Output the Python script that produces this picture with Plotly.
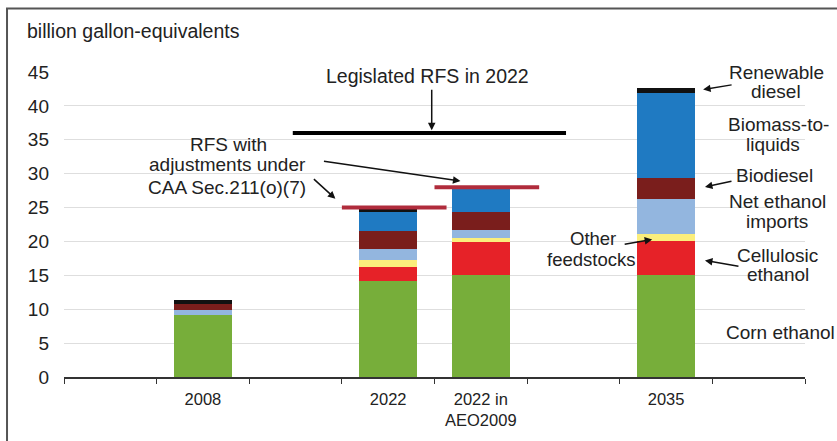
import plotly.graph_objects as go

# ---- data ----
categories = ["2008", "2022", "2022 in<br>AEO2009", "2035"]
positions = [1, 3, 4, 6]              # slot index on the category axis (blank slots between)
corn_ethanol = [9.15, 14.1, 15.0, 15.0]
cellulosic_ethanol = [0.0, 2.1, 4.9, 5.1]
other_feedstocks = [0.0, 1.1, 0.6, 1.0]
net_ethanol_imports = [0.75, 1.55, 1.2, 5.2]
biodiesel = [0.8, 2.65, 2.7, 3.0]
biomass_to_liquids = [0.0, 2.9, 3.3, 12.6]
renewable_diesel = [0.6, 0.45, 0.0, 0.7]

rfs_adjusted_cats = [3, 4]            # 2022 and 2022 in AEO2009
rfs_adjusted_vals = [25.0, 28.0]
legislated_rfs = 36.0

series = [
    ("Corn ethanol", corn_ethanol, "#77ae3a"),
    ("Cellulosic ethanol", cellulosic_ethanol, "#e62228"),
    ("Other feedstocks", other_feedstocks, "#fbee7c"),
    ("Net ethanol imports", net_ethanol_imports, "#93b6df"),
    ("Biodiesel", biodiesel, "#7a1e1c"),
    ("Biomass-to-liquids", biomass_to_liquids, "#1f7ac2"),
    ("Renewable diesel", renewable_diesel, "#111111"),
]

FONT = "Arial, Liberation Sans, sans-serif"
TXT = "#222222"

fig = go.Figure()
for name, vals, col in series:
    fig.add_trace(go.Bar(x=positions, y=vals, name=name, width=0.63,
                         marker=dict(color=col, line=dict(width=0)),
                         showlegend=False, hoverinfo="name+y"))

# RFS with adjustments (red bars above 2022 columns)
for c, v in zip(rfs_adjusted_cats, rfs_adjusted_vals):
    fig.add_trace(go.Scatter(x=[c - 0.5, c + 0.63], y=[v, v], mode="lines",
                             line=dict(color="#b02c3c", width=4),
                             showlegend=False, hoverinfo="skip"))

# Legislated RFS line
fig.add_trace(go.Scatter(x=[rfs_adjusted_cats[0] - 1.03, rfs_adjusted_cats[1] + 0.92],
                         y=[legislated_rfs, legislated_rfs], mode="lines",
                         line=dict(color="#000000", width=4),
                         showlegend=False, hoverinfo="skip"))

ann = []
def text(x, y, t, size=19):
    ann.append(dict(x=x, y=y, xref="x", yref="y", text=t, showarrow=False,
                    xanchor="center", yanchor="middle",
                    font=dict(family=FONT, size=size, color=TXT)))

def arrow(x, y, ax, ay):
    ann.append(dict(x=x, y=y, xref="x", yref="y", text="", showarrow=True,
                    ax=ax, ay=ay, arrowhead=2, arrowsize=1, arrowwidth=1.5,
                    arrowcolor="#111111"))

text(3.42, 44.4, "Legislated RFS in 2022", size=19.5)
arrow(3.47, 36.4, 0, -42)
text(1.28, 34.3, "RFS with")
text(1.27, 31.3, "adjustments under")
text(1.26, 28.0, "CAA Sec.211(o)(7)")
arrow(3.78, 28.9, -138, -20)
arrow(2.43, 26.3, -23, -21)

text(7.19, 45.0, "Renewable")
text(7.19, 42.1, "diesel")
text(7.21, 37.3, "Biomass-to-")
text(7.15, 34.3, "liquids")
text(7.17, 29.7, "Biodiesel")
text(7.20, 25.9, "Net ethanol")
text(7.20, 23.0, "imports")
text(5.21, 20.4, "Other", size=18.5)
text(5.19, 17.3, "feedstocks", size=18.5)
text(7.20, 18.0, "Cellulosic")
text(7.21, 15.1, "ethanol")
text(7.24, 6.6, "Corn ethanol")

arrow(6.40, 42.4, 30, -5)
arrow(6.42, 28.05, 28, -6)
arrow(6.42, 17.2, 35, 6)
arrow(5.85, 20.3, -29, 5)

# axis title
ann.append(dict(x=-0.0526, y=1.136, xref="paper", yref="paper",
                text="billion gallon-equivalents", showarrow=False,
                xanchor="left", yanchor="middle",
                font=dict(family=FONT, size=19.5, color=TXT)))

fig.update_layout(
    width=837, height=441,
    margin=dict(l=64, r=32, t=72, b=61),
    paper_bgcolor="white", plot_bgcolor="white",
    barmode="stack", bargap=0,
    annotations=ann,
    shapes=[dict(type="rect", xref="paper", yref="paper",
                 x0=-0.0769, x1=1.2, y0=-0.4, y1=1.2078,
                 line=dict(color="#555555", width=2), layer="below")],
    xaxis=dict(range=[-0.5, 7.5], tickmode="array", tickvals=positions,
               ticktext=categories, ticks="", showgrid=False, zeroline=False,
               showline=True, linecolor="#333333", linewidth=1.5,
               ticklabelstandoff=6,
               tickfont=dict(family=FONT, size=16.5, color=TXT),
               minor=dict(tickmode="array",
                          tickvals=[i + 0.5 for i in range(-1, 8)],
                          ticks="outside", ticklen=5, tickcolor="#333333",
                          showgrid=False)),
    yaxis=dict(range=[0, 45], tickmode="array", tickvals=list(range(0, 50, 5)),
               ticks="", showgrid=True, gridcolor="#dedede", gridwidth=1,
               zeroline=False, showline=False, ticklabelstandoff=14,
               tickfont=dict(family=FONT, size=19, color=TXT)),
)

fig.write_html("out.html")
